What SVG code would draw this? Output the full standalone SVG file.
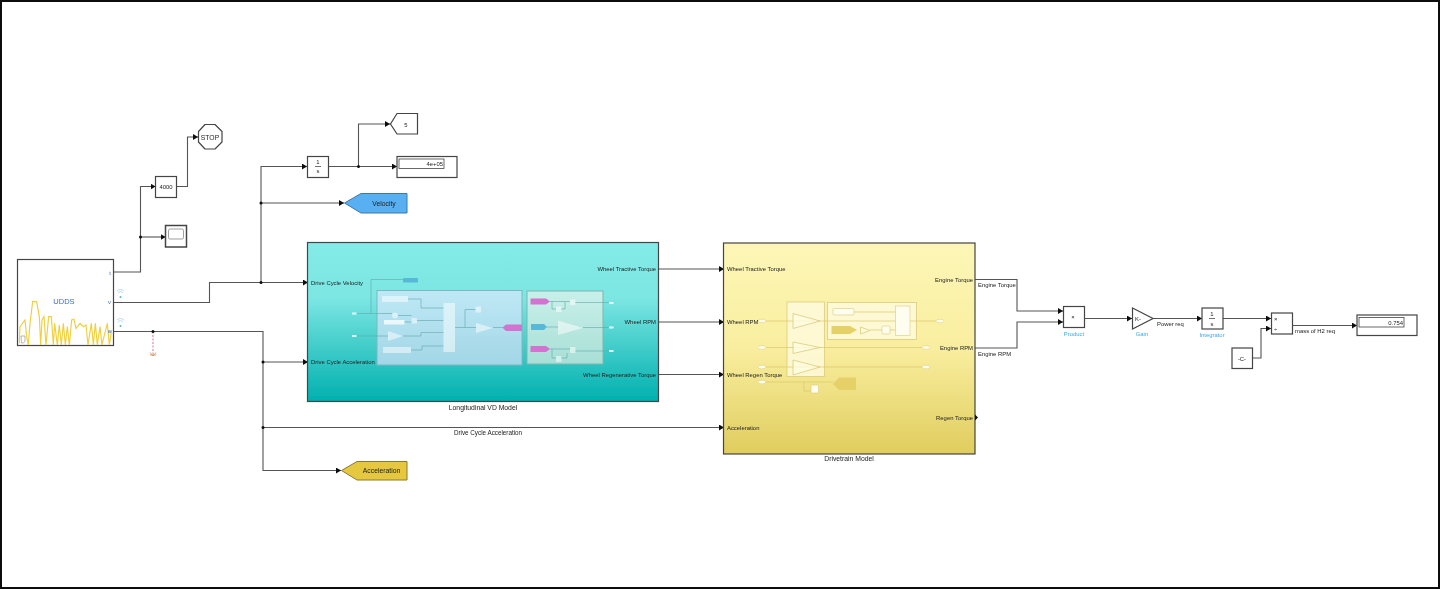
<svg xmlns="http://www.w3.org/2000/svg" width="1440" height="589" viewBox="0 0 1440 589">
<style>
text{font-family:"Liberation Sans",Arial,sans-serif;font-size:5.900px;fill:#222}
.m{text-anchor:middle}.e{text-anchor:end}
.big{font-size:6.800px}
.mid{font-size:6.300px}
.b{fill:#fff;stroke:#444;stroke-width:1.200}
.w{fill:none;stroke:#555;stroke-width:1.100}
.a{marker-end:url(#ah)}
.d{fill:#111}
.blue{fill:#3ba9e6}
.p{fill:#fff;fill-opacity:.5;stroke:none}
.il{fill:none;stroke:#5fa8a8;stroke-width:.6}
.yl{fill:none;stroke:#d8c86a;stroke-width:.7}
.yb{fill:#fffbe0;fill-opacity:.8;stroke:#dccb7c;stroke-width:.8}
</style>
<defs>
<filter id="soft" x="0" y="0" width="1440" height="589" filterUnits="userSpaceOnUse"><feGaussianBlur stdDeviation=".45"/></filter>
<marker id="ah" markerUnits="userSpaceOnUse" markerWidth="6" markerHeight="6" refX="5" refY="3" orient="auto"><path d="M0,0L5,3L0,6z" fill="#111"/></marker>
<linearGradient id="gt" x1="0" y1="0" x2="0" y2="1"><stop offset="0" stop-color="#83ebe8"/><stop offset=".35" stop-color="#7ce6e3"/><stop offset="1" stop-color="#00b0ae"/></linearGradient>
<linearGradient id="gy" x1="0" y1="0" x2="0" y2="1"><stop offset="0" stop-color="#fdf6b7"/><stop offset=".5" stop-color="#f9ee9f"/><stop offset="1" stop-color="#e0cd5e"/></linearGradient>
<linearGradient id="gb" x1="0" y1="0" x2="0" y2="1"><stop offset="0" stop-color="#bfe8f6"/><stop offset="1" stop-color="#a2d6e6"/></linearGradient>
<linearGradient id="gg" x1="0" y1="0" x2="0" y2="1"><stop offset="0" stop-color="#c9f0ea"/><stop offset="1" stop-color="#a8dfd6"/></linearGradient>
</defs>
<rect width="1440" height="589" fill="#fff"/>
<g filter="url(#soft)">
<rect x="1" y="1" width="1438" height="587" fill="none" stroke="#111" stroke-width="2"/>

<g id="connectors">
<path class="w a" d="M113,272H140.500V186.500H155.500"/>
<path class="w a" d="M140.500,237H165.500"/>
<path class="w a" d="M176,186.500H187.500V137H198"/>
<path class="w a" d="M113,302.500H209.500V282.500H308"/>
<path class="w a" d="M261,282.500V166.500H307"/>
<path class="w a" d="M261,203H344"/>
<path class="w a" d="M328,166.500H397"/>
<path class="w a" d="M358.500,166.500V124H390"/>
<path class="w a" d="M113,331.500H263V470.500H341"/>
<path class="w a" d="M263,362H308"/>
<path class="w a" d="M263,427.500H724"/>
<path d="M153,331.500V354" fill="none" stroke="#d9708a" stroke-width="1" stroke-dasharray="2 1.500"/>
<path d="M150,352.500L153,356L156,352.500M150,355H156" fill="none" stroke="#c98a50" stroke-width=".8"/>
<path class="w a" d="M658,269H724"/>
<path class="w a" d="M658,322H724"/>
<path class="w a" d="M658,374.500H724"/>
<path class="w a" d="M975,279.500H1017V311H1063"/>
<path class="w a" d="M975,348H1017V322H1063"/>
<path class="w a" d="M1084,318.500H1132"/>
<path class="w a" d="M1153,318.500H1202"/>
<path class="w a" d="M1222,318.500H1271"/>
<path class="w a" d="M1252,358H1261V328.500H1271"/>
<path class="w a" d="M1292,325.500H1357"/>
<circle class="d" cx="140.500" cy="237" r="1.500"/>
<circle class="d" cx="261" cy="282.500" r="1.500"/>
<circle class="d" cx="261" cy="203" r="1.500"/>
<circle class="d" cx="358.500" cy="166.500" r="1.500"/>
<circle class="d" cx="153" cy="331.500" r="1.500"/>
<circle class="d" cx="263" cy="362" r="1.500"/>
<circle class="d" cx="263" cy="427.500" r="1.500"/>
<text class="m mid" x="488" y="435">Drive Cycle Acceleration</text>
<text x="978" y="287">Engine Torque</text>
<text x="978" y="356">Engine RPM</text>
<text x="1157" y="326">Power req</text>
<text x="1295" y="333">mass of H2 req</text>
</g>

<g id="udds">
<rect class="b" x="17.500" y="259.500" width="96" height="86"/>
<path transform="translate(0,110) scale(.3333)" fill="none" stroke="#f2cf3c" stroke-width="3.500" d="M58,700L60,650L75,630L80,680L85,705L90,640L98,575L110,575L118,620L122,705L126,630L132,620L138,705L146,620L154,620L160,705L164,640L172,705L178,645L184,705L190,640L196,705L202,650L208,705L215,630L222,628L228,655L240,640L250,650L258,645L264,705L274,640L280,705L286,640L292,705L300,650L306,705L312,680L322,640L328,705L335,660"/>
<text class="m" x="64" y="304" style="fill:#3f6fc4;font-size:7.500px">UDDS</text>
<text class="e" x="111" y="275" style="fill:#3f6fc4">t</text>
<text class="e" x="111" y="304" style="fill:#3f6fc4">v</text>
<text class="e" x="111" y="333" style="fill:#3f6fc4">a</text>
<path d="M21,336h4v5l-1.500,2h-2z" fill="#fff" stroke="#999" stroke-width=".7"/>
<path d="M117,291a5,5 0 0 1 7,0M118,293a3,3 0 0 1 5,0M117,320a5,5 0 0 1 7,0M118,322a3,3 0 0 1 5,0" fill="none" stroke="#8cc6dc" stroke-width=".6"/>
<circle cx="120.500" cy="297" r="1" fill="#5ab0d0"/><circle cx="120.500" cy="326" r="1" fill="#5ab0d0"/>
</g>

<g id="limit"><rect class="b" x="155.500" y="176.500" width="21" height="21"/><text class="m" x="166" y="189">4000</text></g>
<g id="stop"><path class="b" d="M205,124.500H215L222,131.500V142L215,149H205L198.500,142V131.500Z" stroke-linejoin="round"/><text class="m big" x="210" y="139.500">STOP</text></g>
<g id="scope"><rect class="b" x="165.500" y="225.500" width="21" height="21.500" style="stroke-width:1.500"/><rect x="168.500" y="229" width="15" height="10" rx="1.500" fill="#fff" stroke="#888" stroke-width=".8"/></g>
<g id="integrator1"><rect class="b" x="307.500" y="156.500" width="21" height="21"/><path d="M315,166.500h6" stroke="#333" stroke-width=".7"/><text class="m" x="318" y="164">1</text><text class="m" x="318" y="173">s</text></g>
<g id="goto5"><path class="b" d="M397,113.500H417.500V134H397L390.500,124Z"/><text class="m" x="406" y="126.500">5</text></g>
<g id="display1"><rect class="b" x="397" y="156.500" width="60" height="21"/><rect class="b" x="399" y="159" width="45" height="9.500" style="stroke-width:.8"/><text class="e" x="443" y="166">4e+05</text></g>
<g id="velocity"><path d="M361,193.500H407V213H361L344.500,203Z" fill="#59aff2" stroke="#3a79a8"/><text class="m big" x="384" y="206">Velocity</text></g>
<g id="acceleration"><path d="M357,461.500H407V480H357L341.500,470.500Z" fill="#e6c83f" stroke="#8a7a30"/><text class="m big" x="381.500" y="473">Acceleration</text></g>

<g id="longitudinal">
<rect x="307.500" y="242.500" width="351" height="159" fill="url(#gt)" stroke="#444" stroke-width="1.200"/>
<text x="311" y="284.500">Drive Cycle Velocity</text>
<text x="311" y="364">Drive Cycle Acceleration</text>
<text class="e" x="656" y="271">Wheel Tractive Torque</text>
<text class="e" x="656" y="324">Wheel RPM</text>
<text class="e" x="656" y="376.500">Wheel Regenerative Torque</text>
<text class="m big" x="483" y="409.500">Longitudinal VD Model</text>
<rect x="377" y="290.500" width="145" height="74.500" fill="url(#gb)" stroke="#7fb6c0"/>
<rect x="527" y="291" width="76" height="73" fill="url(#gg)" stroke="#7fb6b0"/>
<path class="il" d="M356,313.500H392M371,313.500V279.500H403M398,315.500H411.500M404,322H411.500M417,320.500H443.500M408,299H421V308H443.500M356,336H388M403,336H421V332.500H443.500M411,350H422V346H443.500M455,327.500H476M465,327.500V309.500H475.500M493,327.500H503M550,301.500H570M552,301.500V309H556M561,309H565V302M575,302.500H609M547,327H558M583,327.500H609M550,349H570M575,351H609M552,349V358H556M561,358H567V353"/>
<rect x="403" y="278" width="15" height="4.500" rx="1" fill="#58b8d8"/>
<rect x="352" y="312.500" width="4.500" height="2" fill="#dff"/>
<rect x="352" y="335" width="4.500" height="2" fill="#dff"/>
<rect class="p" x="382" y="296" width="26" height="6"/>
<circle class="p" cx="395" cy="315.500" r="3"/>
<rect class="p" x="384" y="320" width="20.500" height="4.500" style="fill-opacity:.75"/>
<rect class="p" x="411.500" y="318" width="5.500" height="5.500"/>
<path class="p" d="M388,331L403,336L388,341Z"/>
<rect class="p" x="383" y="347" width="28" height="6"/>
<rect class="p" x="443.500" y="303" width="11.500" height="49"/>
<rect class="p" x="475.500" y="306.500" width="5.500" height="6"/>
<path class="p" d="M476,323L493,328L476,333Z"/>
<path d="M506,324.500H522V331H506L502.500,327.700Z" fill="#d273cf"/>
<path d="M530.500,298.500H546L550,301.500L546,304.500H530.500Z" fill="#d273cf"/>
<rect class="p" x="570" y="299.500" width="5.500" height="5.500"/>
<rect class="p" x="556" y="306.500" width="5.500" height="5.500"/>
<path d="M531,324H544L547,327L544,330H531Z" fill="#58b8d8"/>
<path class="p" d="M558,320.500L583,328L558,335Z"/>
<path d="M530.500,346H546L550,349L546,352H530.500Z" fill="#d273cf"/>
<rect class="p" x="570" y="347" width="5.500" height="6"/>
<rect class="p" x="556" y="356" width="5.500" height="6"/>
<rect x="609" y="302" width="4.500" height="2" fill="#dff"/>
<rect x="609" y="326.500" width="4.500" height="2" fill="#dff"/>
<rect x="609" y="350" width="4.500" height="2" fill="#dff"/>
</g>

<g id="drivetrain">
<rect x="723.500" y="243" width="251.500" height="211" fill="url(#gy)" stroke="#444" stroke-width="1.200"/>
<path d="M975,414.500L978,417.500L975,420.500Z" fill="#111"/>
<text x="727" y="271">Wheel Tractive Torque</text>
<text x="727" y="324">Wheel RPM</text>
<text x="727" y="376.500">Wheel Regen Torque</text>
<text x="727" y="430">Acceleration</text>
<text class="e" x="973" y="281.500">Engine Torque</text>
<text class="e" x="973" y="350">Engine RPM</text>
<text class="e" x="973" y="420">Regen Torque</text>
<text class="m big" x="849" y="461">Drivetrain Model</text>
<rect class="yb" x="787" y="302" width="37.500" height="74.500"/>
<rect class="yb" x="827.500" y="302.500" width="89" height="37"/>
<path class="yl" d="M766,321H936M762,347.500H922M762,367H922M762,382H833M804,382V391H811M854,312H895.500M870,330H882M890,330H895.500"/>
<rect x="833" y="308.500" width="21" height="6.500" rx="1" fill="#fffdf0" stroke="#dccb7c" stroke-width=".6"/>
<rect x="895.500" y="306" width="14.500" height="29.500" fill="#fffdf0" stroke="#dccb7c" stroke-width=".6"/>
<path d="M831.500,326H850L857,330L850,334H831.500Z" fill="#e6d168"/>
<path class="yb" d="M860.500,327L870,330.500L860.500,334Z"/>
<rect x="882" y="326" width="8" height="8" rx="1" fill="#fffdf0" stroke="#dccb7c" stroke-width=".6"/>
<path class="yb" d="M793,313.500L820,321L793,328.500Z"/>
<path class="yb" d="M793,342L820,347.500L793,353.500Z"/>
<path class="yb" d="M793,360L820,367L793,375Z"/>
<path d="M839,377.500H856V390H839L833,384Z" fill="#e6d168"/>
<rect x="811" y="385" width="7.500" height="8" rx="1" fill="#fffdf0" stroke="#dccb7c" stroke-width=".6"/>
<g fill="#fffdf0" stroke="#dccb7c" stroke-width=".5">
<ellipse cx="762" cy="321" rx="4" ry="1.800"/><ellipse cx="762" cy="347.500" rx="4" ry="1.800"/><ellipse cx="762" cy="367" rx="4" ry="1.800"/><ellipse cx="762" cy="382" rx="4" ry="1.800"/>
<ellipse cx="940" cy="321" rx="4" ry="1.800"/><ellipse cx="926" cy="347.500" rx="4" ry="1.800"/><ellipse cx="926" cy="367" rx="4" ry="1.800"/>
</g>
</g>

<g id="product"><rect class="b" x="1063.500" y="306.500" width="21" height="21"/><text class="m" x="1073" y="319">×</text><text class="m blue" x="1074" y="336">Product</text></g>
<g id="gain"><path class="b" d="M1132.500,308L1153,318.500L1132.500,329Z"/><text x="1135" y="321">K-</text><text class="m blue" x="1142" y="336">Gain</text></g>
<g id="integrator2"><rect class="b" x="1202" y="308" width="21" height="21"/><path d="M1209,318.500h6" stroke="#333" stroke-width=".7"/><text class="m" x="1212" y="316">1</text><text class="m" x="1212" y="326">s</text><text class="m blue" x="1212" y="337">Integrator</text></g>
<g id="divide"><rect class="b" x="1271.500" y="313" width="21" height="21"/><text x="1274" y="321">×</text><text x="1274" y="331">÷</text></g>
<g id="constant"><rect class="b" x="1232" y="348" width="20.500" height="20.500"/><text class="m" x="1242" y="360.500">-C-</text></g>
<g id="display2"><rect class="b" x="1357" y="315" width="60" height="20.500"/><rect class="b" x="1359" y="317.500" width="45" height="9.500" style="stroke-width:.8"/><text class="e" x="1403" y="324.500">0.754</text></g>
</g>
</svg>
